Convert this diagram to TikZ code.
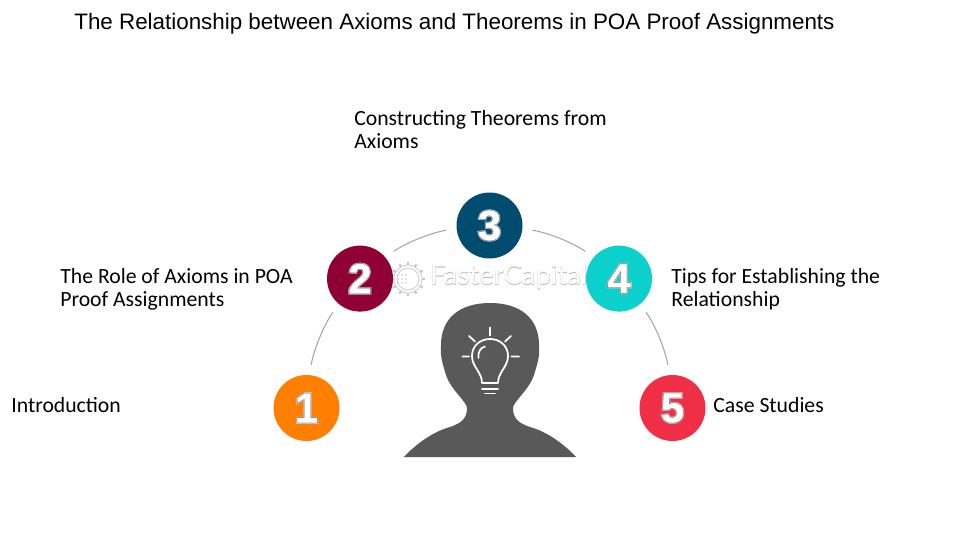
\documentclass[tikz,border=0pt]{standalone}
\usepackage{fontspec}
\setmainfont{Carlito}
\newfontfamily\titlefont{Liberation Sans}
\newfontfamily\digitglow[UprightFont=* Bold,FakeBold=6]{Liberation Sans}
\newfontfamily\digitedge[UprightFont=* Bold,FakeBold=3.4]{Liberation Sans}
\newfontfamily\digitfill[UprightFont=* Bold,FakeBold=0.6]{Liberation Sans}
\newfontfamily\markedge[FakeBold=1.2]{Lato}
\newfontfamily\markfill{Lato}
\definecolor{orangeone}{HTML}{FF8000}
\definecolor{redtwo}{HTML}{8F0033}
\definecolor{bluethree}{HTML}{004C70}
\definecolor{tealfour}{HTML}{0BD0CC}
\definecolor{redfive}{HTML}{F02E45}
\definecolor{headgray}{HTML}{595959}
\newcommand{\digit}[1]{\fontsize{24}{24}\selectfont
	\makebox[0pt]{\digitglow\color{white!80!black}#1}%
	\makebox[0pt]{\digitedge\color{black!55}#1}%
	\makebox[0pt]{\digitfill\color{white}#1}}
\tikzset{
	num/.style={circle,inner sep=0pt,minimum size=1.32cm},
	lab/.style={anchor=west,align=left,inner sep=0pt,font=\fontsize{12.35}{13}\selectfont},
	arcline/.style={draw=black!35,line width=0.6pt,shorten <=5.7pt,shorten >=5.7pt,looseness=0.87},
	bulb/.style={draw=white,line width=1pt,line cap=round,line join=round},
	markline/.style={draw=black!22,line width=0.4pt}
}
\begin{document}
\begin{tikzpicture}[x=0.02cm,y=-0.02cm]
	\useasboundingbox (0,0) rectangle (980,550) ;
	\node[anchor=west,inner sep=0pt,font=\titlefont\fontsize{12.74}{14}\selectfont] (title) at (74,23.5)
	{The Relationship between Axioms and Theorems in POA Proof Assignments} ;
	\node[lab] (mark) at (430,277)
	{\fontsize{15.6}{16}\selectfont\rlap{\markedge\color{black!28}FasterCapital}\markfill\color{white}FasterCapital} ;
	\draw[markline] (408,279) circle (14) (408,279) circle (11) ;
	\foreach \a in {0,30,...,330}
		\draw[markline,line width=1.2pt] ([shift={(\a:14)}]408,279) -- ([shift={(\a:17)}]408,279) ;
	\foreach \px in {386,390,...,406}
		\foreach \py in {275,279,283}
			\fill[black!18] (\px,\py) circle (1) ;
	\node[num,fill=orangeone] (one) at (306.5,408) {\digit{1}} ;
	\node[num,fill=redtwo] (two) at (360,278.6) {\digit{2}} ;
	\node[num,fill=bluethree] (three) at (489.5,225.5) {\digit{3}} ;
	\node[num,fill=tealfour] (four) at (619,278.6) {\digit{4}} ;
	\node[num,fill=redfive] (five) at (672.5,408) {\digit{5}} ;
	\draw[arcline] (one.85) to[out=80,in=235] (two.230) ;
	\draw[arcline] (two.40) to[out=35,in=190] (three.185) ;
	\draw[arcline] (three.-5) to[out=-10,in=145] (four.140) ;
	\draw[arcline] (four.-50) to[out=-55,in=100] (five.95) ;
	\node[lab] (intro) at (11,405) {Introduction} ;
	\node[lab] (role) at (60,289) {The Role of Axioms in POA\\Proof Assignments} ;
	\node[lab] (constr) at (354,129.5) {Constructing Theorems from\\Axioms} ;
	\node[lab] (tips) at (671,289) {Tips for Establishing the\\Relationship} ;
	\node[lab] (cases) at (713,405) {Case Studies} ;
	\fill[headgray] (404,457) .. controls (415,445) and (432,432) .. (450,427)
	.. controls (462,423) and (467,418) .. (467,408)
	.. controls (467,402) and (451,390) .. (446,375)
	.. controls (442,362) and (440,355) .. (441,345)
	.. controls (441,318) and (460,303) .. (490,303)
	.. controls (520,303) and (539,318) .. (539,345)
	.. controls (540,355) and (538,362) .. (534,375)
	.. controls (529,390) and (513,402) .. (513,408)
	.. controls (513,418) and (518,423) .. (530,427)
	.. controls (548,432) and (565,445) .. (576,457) -- cycle ;
	\draw[bulb] (482,383) .. controls (482,372) and (472,367) .. (472,356)
	.. controls (472,346) and (480,339) .. (490,339)
	.. controls (500,339) and (508,346) .. (508,356)
	.. controls (508,367) and (498,372) .. (498,383) -- cycle ;
	\draw[bulb] (478.5,358) .. controls (478,352) and (480,348) .. (485,346.5) ;
	\draw[bulb] (482,389)--(498,389) (485,393.5)--(495,393.5) ;
	\draw[bulb] (490,327.5)--(490,335.5) (469,336)--(475,341.5) (511,336)--(505,341.5)
	(462.5,356.5)--(469,356.5) (511.5,356.5)--(519,356.5) ;
\end{tikzpicture}
\end{document}
